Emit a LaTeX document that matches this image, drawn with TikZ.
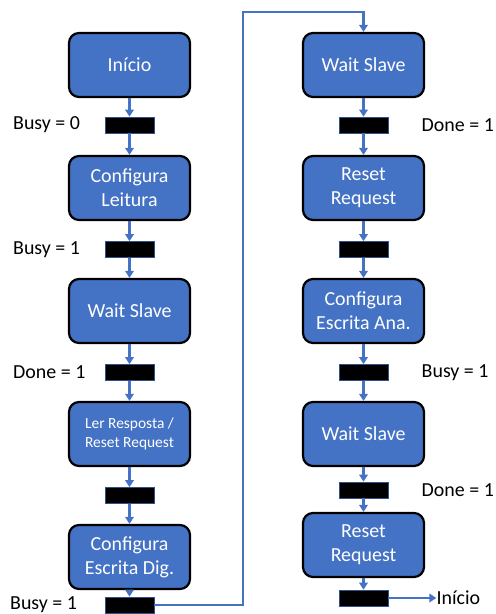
\documentclass[tikz,border=0pt]{standalone}
\usepackage{fontspec}
\setmainfont{Carlito}
\usetikzlibrary{positioning,arrows.meta}
\definecolor{azul}{HTML}{4472C4}
\definecolor{contorno}{HTML}{2F528F}
\tikzset{
  estado/.style={draw=black, line width=2.2bp, fill=azul, rounded corners=10bp,
    minimum width=121bp, minimum height=64bp, text=white, align=center,
    font=\fontsize{20}{24}\selectfont, inner sep=2bp},
  barra/.style={draw=contorno, line width=0.7bp, fill=black,
    minimum width=49bp, minimum height=16bp, inner sep=0pt},
  seta/.style={draw=azul, line width=2.6bp, line join=miter,
    -{Triangle[length=7bp,width=8.5bp]}},
  rotulo/.style={font=\fontsize{20}{24}\selectfont, inner sep=0pt},
}
\begin{document}
\begin{tikzpicture}[x=1bp, y=1bp, node distance=61.5bp]
\useasboundingbox (0,0) rectangle (496,-614);
% coluna da esquerda
\node[estado] (inicio) at (129.5,-65) {Início};
\node[barra] (b1) [node distance=60bp, below of=inicio] {};
\node[estado] (leit) [node distance=63bp, below of=b1] {Configura\\Leitura};
\node[barra] (b2) [below of=leit] {};
\node[estado] (ws1) [below of=b2] {Wait Slave};
\node[barra] (b3) [below of=ws1] {};
\node[estado, font=\fontsize{15.5}{19}\selectfont] (ler) [below of=b3] {Ler Resposta /\\Reset Request};
\node[barra] (b4) [below of=ler] {};
\node[estado] (dig) [below of=b4] {Configura\\Escrita Dig.};
\node[barra] (b5) [node distance=48bp, below of=dig] {};
% coluna da direita
\node[estado] (ws2) at (363.5,-65) {Wait Slave};
\node[barra] (b6) [node distance=60bp, below of=ws2] {};
\node[estado] (rr1) [node distance=63bp, below of=b6] {Reset\\Request};
\node[barra] (b7) [below of=rr1] {};
\node[estado] (ana) [below of=b7] {Configura\\Escrita Ana.};
\node[barra] (b8) [below of=ana] {};
\node[estado] (ws3) [below of=b8] {Wait Slave};
\node[barra] (b9) [node distance=56bp, below of=ws3] {};
\node[estado] (rr2) [node distance=55bp, below of=b9] {Reset\\Request};
\node[barra] (b10) [node distance=53bp, below of=rr2] {};
% condicoes
\node[rotulo, anchor=west] (c1) at (b1 -| 13,0) {Busy = 0};
\node[rotulo, anchor=west] (c2) at (b2 -| 13,0) {Busy = 1};
\node[rotulo, anchor=west] (c3) at (b3 -| 13,0) {Done = 1};
\node[rotulo, anchor=west] (c5) at (b5 -| 10,0) {Busy = 1};
\node[rotulo, anchor=west] (c6) at (b6 -| 421.5,0) {Done = 1};
\node[rotulo, anchor=west] (c8) at (b8 -| 421.5,0) {Busy = 1};
\node[rotulo, anchor=west] (c9) at (b9 -| 421.5,0) {Done = 1};
\node[rotulo, right=48bp of b10] (fim) {Início};
% setas
\draw[seta] (inicio) -- (b1);
\draw[seta] (b1) -- (leit);
\draw[seta] (leit) -- (b2);
\draw[seta] (b2) -- (ws1);
\draw[seta] (ws1) -- (b3);
\draw[seta] (b3) -- (ler);
\draw[seta] (ler) -- (b4);
\draw[seta] (b4) -- (dig);
\draw[seta] (dig) -- (b5);
\coordinate (canto) at (243,-12);
\draw[seta] (b5) -| (canto) -| (ws2);
\draw[seta] (ws2) -- (b6);
\draw[seta] (b6) -- (rr1);
\draw[seta] (rr1) -- (b7);
\draw[seta] (b7) -- (ana);
\draw[seta] (ana) -- (b8);
\draw[seta] (b8) -- (ws3);
\draw[seta] (ws3) -- (b9);
\draw[seta] (b9) -- (rr2);
\draw[seta] (rr2) -- (b10);
\draw[seta] (b10) -- (fim);
\end{tikzpicture}
\end{document}
